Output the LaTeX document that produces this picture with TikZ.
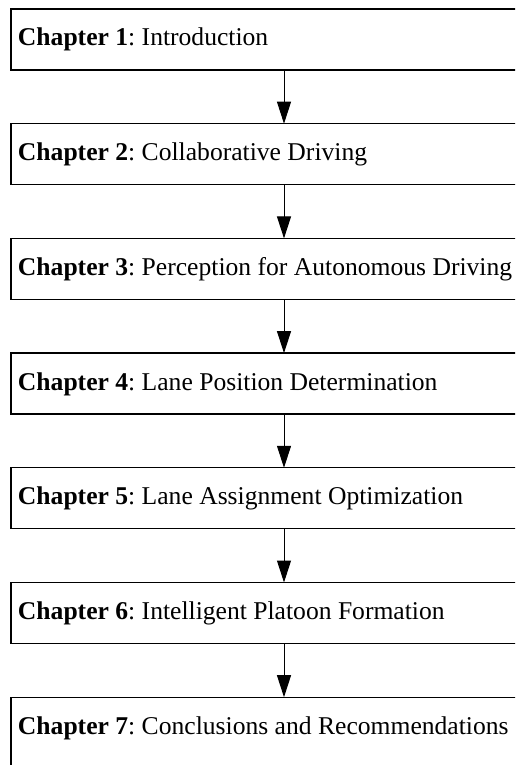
\documentclass[tikz,border=0pt]{standalone}
\usepackage{fontspec}
\setmainfont{Liberation Serif}
\usetikzlibrary{arrows.meta}

\begin{document}
\begin{tikzpicture}[x=0.5pt, y=-0.5pt, outer sep=0pt]

\tikzstyle{chapbox}=[draw, rectangle, line width=0.65pt, anchor=north west, text width=266pt, align=flush left, inner xsep=3.5pt, inner ysep=0pt, text height=18.5pt, text depth=12pt, font=\fontsize{12.8}{15}\selectfont\frenchspacing]
\tikzstyle{arr}=[line width=0.5pt, -{Triangle[length=11pt,width=7pt]}]

\clip (0,0) rectangle (515,765);

\node[chapbox] (ch1) at (11,9) {\textbf{Chapter 1}: Introduction};
\node[chapbox] (ch2) at (11,123.7) {\textbf{Chapter 2}: Collaborative Driving};
\node[chapbox] (ch3) at (11,238.4) {\textbf{Chapter 3}: Perception for Autonomous Driving};
\node[chapbox] (ch4) at (11,353.1) {\textbf{Chapter 4}: Lane Position Determination};
\node[chapbox] (ch5) at (11,467.8) {\textbf{Chapter 5}: Lane Assignment Optimization};
\node[chapbox] (ch6) at (11,582.5) {\textbf{Chapter 6}: Intelligent Platoon Formation};
\node[chapbox, text depth=40pt] (ch7) at (11,697.2) {\textbf{Chapter 7}: Conclusions and Recommendations};

\draw[arr] (ch1.south) -- (ch2.north);
\draw[arr] (ch2.south) -- (ch3.north);
\draw[arr] (ch3.south) -- (ch4.north);
\draw[arr] (ch4.south) -- (ch5.north);
\draw[arr] (ch5.south) -- (ch6.north);
\draw[arr] (ch6.south) -- (ch7.north);

\end{tikzpicture}
\end{document}
